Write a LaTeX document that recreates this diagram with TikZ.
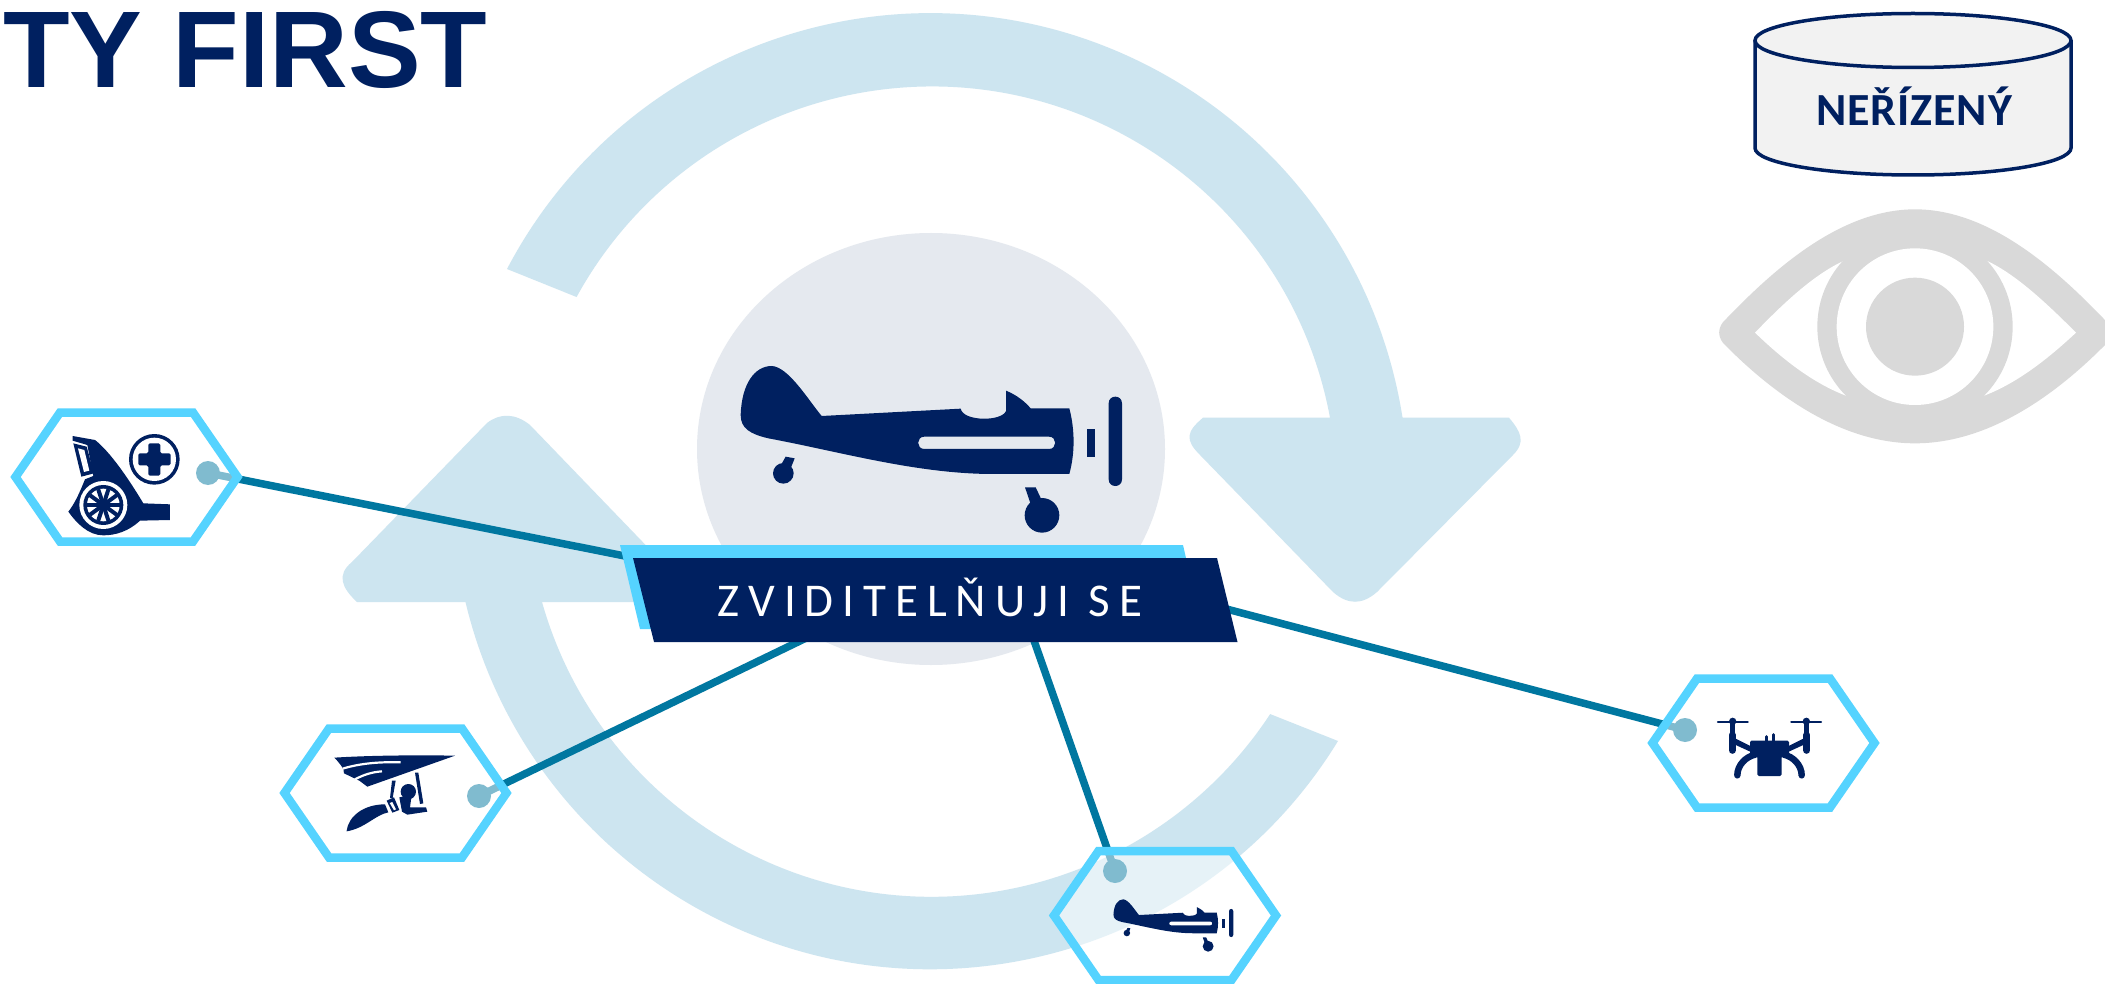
\documentclass[tikz,border=0pt]{standalone}
\usepackage{fontspec}
\setmainfont{Carlito}
\newfontfamily\titlefont{Liberation Sans}
\usetikzlibrary{calc}
\definecolor{navy}{HTML}{002060}
\definecolor{ringblue}{HTML}{CDE5F0}
\definecolor{cyanline}{HTML}{55D3FF}
\definecolor{tealline}{HTML}{0077A0}
\definecolor{softgrey}{HTML}{E5E9EF}
\definecolor{eyegrey}{HTML}{D9D9D9}
\definecolor{cylfill}{HTML}{F2F2F2}
\tikzset{
  ringshape/.style={fill=ringblue,draw=none},
  hexbox/.style={draw=cyanline,line width=8.5pt,fill=white,fill opacity=.5,line join=miter},
  link/.style={draw=tealline,line width=7.5pt},
  linkdot/.style={circle,fill=tealline,draw=none,minimum size=24pt,inner sep=0pt},
  iconfill/.style={fill=navy,draw=none},
  iconline/.style={draw=navy,line cap=round},
  zoomgrid/.style={x=.33333pt,y=-.33333pt},
}
\newcommand{\hexa}[2]{\draw[hexbox] (#1-111,#2) -- (#1-66.5,#2-64.5) -- (#1+66.5,#2-64.5) -- (#1+111,#2) -- (#1+66.5,#2+64.5) -- (#1-66.5,#2+64.5) -- cycle;}
\newcommand{\planeicon}[3]{%
\begin{scope}[shift={(#1,#2)},x=#3pt,y=-#3pt]
\fill[iconfill,even odd rule] (365,198) -- (782,176) .. controls (790,215) and (905,215) .. (918,183) -- (918,122) .. controls (950,135) and (975,155) .. (992,175) -- (1108,175) .. controls (1125,240) and (1125,310) .. (1108,372) -- (880,372) .. controls (650,372) and (420,305) .. (205,265) .. controls (150,252) and (122,235) .. (122,195) .. controls (125,100) and (165,48) .. (215,48) .. controls (265,50) and (325,150) .. (365,198) -- cycle
 (673,260) -- (1047,260) .. controls (1071.7,260) and (1071.7,297) .. (1047,297) -- (673,297) .. controls (648.3,297) and (648.3,260) .. (673,260) -- cycle;
\fill[iconfill] (250,370) circle[radius=31];
\fill[iconfill] (257,320) -- (284,325) -- (270,360) -- (240,350) -- cycle;
\fill[iconfill] (1026,496) circle[radius=52];
\fill[iconfill] (975,412) -- (1007,412) -- (1025,450) -- (992,462) -- cycle;
\fill[iconfill] (1160,237) rectangle (1184,320);
\fill[iconfill] (1226,160) .. controls (1226,133.3) and (1266,133.3) .. (1266,160) -- (1266,388) .. controls (1266,414.7) and (1226,414.7) .. (1226,388) -- cycle;
\end{scope}}
\begin{document}
\begin{tikzpicture}[x=1pt,y=-1pt]
\useasboundingbox (0,0) rectangle (2105,984);
\clip (0,0) rectangle (2105,984);
\fill[white] (0,0) rectangle (2105,984);
% cycle arrows
\path[ringshape] (507,269) arc[start angle=207.7,end angle=351.1,radius=478] -- (1403,417.7) -- (1509,417.7) .. controls (1521,432) and (1526,442) .. (1513,455) -- (1377,592) .. controls (1362,605) and (1348,605) .. (1333,592) -- (1200,455) .. controls (1185,440) and (1186,432) .. (1203,417.7) -- (1330,417.7) arc[start angle=349.5,end angle=208.7,radius=405] -- cycle;
\path[ringshape] (1338,741) arc[start angle=31.5,end angle=166.7,radius=478] -- (467,602) -- (357,602) .. controls (342,588) and (336,575) .. (352,562) -- (487,423) .. controls (500,413) and (515,413) .. (530,425) -- (662,562) .. controls (675,575) and (672,590) .. (657,602) -- (542,602) arc[start angle=164.2,end angle=33.3,radius=405] -- cycle;
% backing disc
\fill[softgrey] (931,449) ellipse[x radius=234,y radius=216];
% main aircraft
\planeicon{700}{350}{.33333}
% connectors
\node[linkdot] (dotA) at (208,473) {};
\node[linkdot] (dotB) at (479,796) {};
\node[linkdot] (dotC) at (1115,871) {};
\node[linkdot] (dotD) at (1685,730) {};
\coordinate (bandA) at (660,563);
\coordinate (bandB) at (830,626.5);
\coordinate (bandC) at (1025,615);
\coordinate (bandD) at (1200,602);
\draw[link] (dotA.center) -- (bandA);
\draw[link] (dotB.center) -- (bandB);
\draw[link] (dotC.center) -- (bandC);
\draw[link] (dotD.center) -- (bandD);
% banner
\fill[cyanline] (620,545) -- (1183,545) -- (1186,558) -- (651,629) -- (640,629) -- cycle;
\fill[navy] (633,558) -- (1217,558) -- (1237.5,642) -- (654,642) -- cycle;
\node[text=white,font=\fontsize{47}{50}\selectfont\addfontfeature{LetterSpace=19},inner sep=0pt,anchor=base] (bandtext) at (930,616) {ZVIDITELŇUJI SE};
% hexagons
\hexa{126.5}{477}
\hexa{395.5}{793}
\hexa{1165}{915.5}
\hexa{1763.5}{743}
% wheel icon
\begin{scope}[shift={(0,390)},zoomgrid]
\fill[iconfill] (218,138) -- (285,150) .. controls (330,185) and (385,265) .. (430,340) -- (510,343) -- (510,390) -- (420,392) .. controls (385,425) and (345,436) .. (310,436) .. controls (265,436) and (230,400) .. (205,365) .. controls (225,340) and (240,305) .. (255,268) -- (280,258) -- (262,165) -- (218,152) -- cycle;
\fill[iconfill] (220,160) -- (260,170) -- (282,250) -- (244,260) -- cycle;
\fill[white] (234,175) -- (253,180) -- (268,242) -- (252,246) -- cycle;
\fill[white] (310,345) circle[radius=72];
\fill[iconfill] (310,345) circle[radius=60];
\fill[white] (310,345) circle[radius=49];
\foreach \a in {0,36,...,324}{\draw[draw=navy,line width=4pt] (310,345) -- ++(\a:50);}
\fill[iconfill] (310,345) circle[radius=13];
\fill[iconfill] (463,208) circle[radius=76];
\fill[white] (463,208) circle[radius=65];
\fill[iconfill,rounded corners=1.5pt] (445,160) -- (481,160) -- (481,190) -- (512,190) -- (512,226) -- (481,226) -- (481,257) -- (445,257) -- (445,226) -- (415,226) -- (415,190) -- (445,190) -- cycle;
\end{scope}
% glider icon
\begin{scope}[shift={(270,710)},zoomgrid]
\fill[iconfill] (193,143) .. controls (300,136) and (450,135) .. (555,137) -- (292,230) -- (268,212) -- (222,190) .. controls (225,178) and (205,155) .. (193,143) -- cycle;
\draw[draw=white,line width=2.2pt] (392,157) .. controls (330,155) and (270,160) .. (218,176);
\draw[draw=white,line width=2.2pt] (336,184) .. controls (310,186) and (285,192) .. (255,208);
\fill[iconfill] (230,362) .. controls (235,320) and (280,283) .. (345,283) -- (355,307) .. controls (315,315) and (285,355) .. (230,364) -- cycle;
\fill[iconfill] (350,272) -- (372,262) -- (388,300) -- (367,308) -- cycle;
\fill[white] (359,279) -- (367,276) -- (378,298) -- (372,301) -- cycle;
\fill[iconfill] (415,245) circle[radius=23];
\fill[iconfill] (388,262) -- (425,255) -- (420,292) -- (468,292) -- (472,305) -- (412,314) -- (396,305) -- cycle;
\fill[iconfill] (366,212) -- (377,212) -- (368,264) -- (360,264) -- cycle;
\fill[iconfill] (435,188) -- (445,188) -- (460,280) -- (450,282) -- cycle;
\end{scope}
% small aircraft
\planeicon{1100.7}{894.3}{.1047}
% drone icon
\begin{scope}[shift={(1640,670)},zoomgrid]
\draw[iconline,line width=2.4pt] (234,156) -- (323,156);
\draw[iconline,line width=2.4pt] (454,156) -- (543,156);
\fill[iconfill] (278,154) circle[radius=11];
\fill[iconfill] (499,154) circle[radius=11];
\draw[iconline,line width=4.5pt] (278,154) -- (278,190);
\draw[iconline,line width=4.5pt] (499,154) -- (499,190);
\draw[iconline,line width=7pt] (277,195) -- (277,241);
\draw[iconline,line width=7pt] (500,195) -- (500,241);
\fill[iconfill] (285,205) -- (335,230) -- (335,247) -- (285,224) -- cycle;
\fill[iconfill] (492,205) -- (442,230) -- (442,247) -- (492,224) -- cycle;
\fill[iconfill,rounded corners=1.5pt] (330,212) -- (447,212) -- (447,258) -- (425,258) -- (425,318) -- (352,318) -- (352,258) -- (330,258) -- cycle;
\draw[iconline,line width=3pt] (378,200) -- (378,212);
\draw[iconline,line width=3pt] (399,194) -- (399,212);
\draw[iconline,line width=6.5pt] (292,316) .. controls (292,285) and (318,260) .. (345,254);
\draw[iconline,line width=6.5pt] (485,316) .. controls (485,285) and (459,260) .. (432,254);
\end{scope}
% title
\node[text=navy,font=\titlefont\bfseries\fontsize{109}{112}\selectfont,inner sep=0pt,anchor=base west] (title) at (3,88) {TY FIRST};
% cylinder
\path[fill=cylfill] (1755,40.5) -- (1755,148) arc[start angle=180,end angle=0,x radius=158,y radius=27] -- (2071,40.5) -- cycle;
\draw[navy,line width=3.5pt] (1755,40.5) -- (1755,148) arc[start angle=180,end angle=0,x radius=158,y radius=27] -- (2071,40.5);
\draw[navy,line width=3.5pt,fill=cylfill] (1913,40.5) ellipse[x radius=158,y radius=27];
\node[text=navy,font=\bfseries\fontsize{46}{48}\selectfont\addfontfeature{LetterSpace=2},inner sep=0pt,anchor=base] (mode) at (1914,126) {NEŘÍZENÝ};
% eye
\begin{scope}[shift={(1700,190)},zoomgrid]
\fill[eyegrey] (80,385) .. controls (220,240) and (420,58) .. (645,58) .. controls (870,58) and (1070,240) .. (1210,385) .. controls (1240,420) and (1240,445) .. (1210,470) .. controls (1070,610) and (870,760) .. (645,760) .. controls (420,760) and (220,610) .. (80,470) .. controls (50,445) and (50,410) .. (80,385) -- cycle;
\fill[white] (165,428) .. controls (250,340) and (340,255) .. (430,213) .. controls (500,180) and (790,180) .. (862,213) .. controls (950,255) and (1040,340) .. (1128,428) .. controls (1040,510) and (950,580) .. (850,618) .. controls (790,650) and (500,650) .. (440,618) .. controls (340,580) and (250,510) .. (165,428) -- cycle;
\fill[eyegrey] (645,410) circle[radius=293];
\fill[white] (645,410) circle[radius=235];
\fill[eyegrey] (645,410) circle[radius=147];
\end{scope}
\end{tikzpicture}
\end{document}
